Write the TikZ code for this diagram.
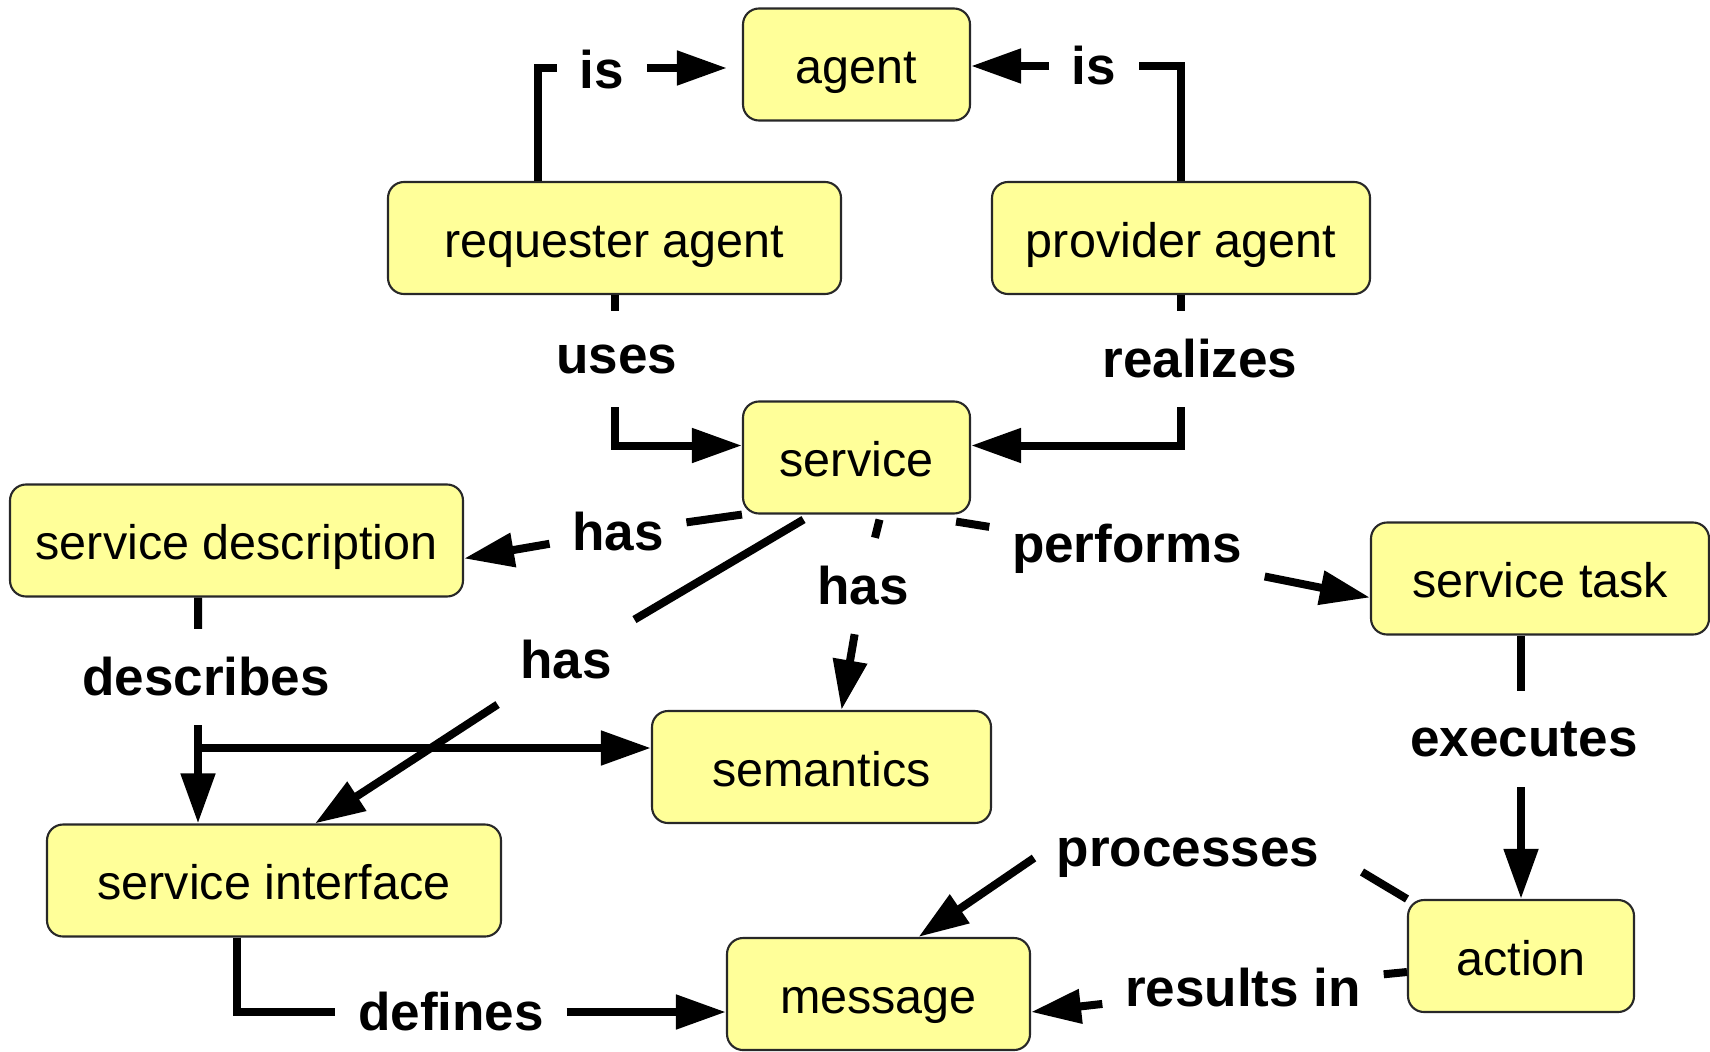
\documentclass[tikz,border=0pt]{standalone}
\usepackage{fontspec}
\setmainfont{Liberation Sans}
\usepackage{tikz}
\usetikzlibrary{arrows.meta, positioning, calc}
\definecolor{boxyellow}{RGB}{255,255,153}
\definecolor{boxborder}{RGB}{40,40,40}
\definecolor{mydark}{RGB}{0,0,0}
\tikzset{
  concept/.style={rectangle, draw=boxborder, fill=boxyellow,
    minimum height=1.12cm, inner sep=0pt, rounded corners=0.16cm,
    text height=0.45cm, text depth=0.07cm,
    font=\fontsize{13.8}{16}\selectfont, line width=0.6pt},
  rel/.style={inner xsep=0.22cm, inner ysep=0pt, minimum height=0.95cm,
    font=\fontsize{15.1}{17}\selectfont\bfseries},
  arrow/.style={-{Triangle[length=0.5cm, width=0.33cm]}, line width=0.08cm, color=mydark},
  line/.style={line width=0.08cm, color=mydark}
}
\begin{document}
\begin{tikzpicture}
  \useasboundingbox (0,0) rectangle (17.1,-10.51);

  % Concepts
  \node[concept, minimum width=2.27cm] (agent) at (8.565, -0.645) {agent};
  \node[concept, minimum width=4.53cm] (req) at (6.145, -2.38) {requester agent};
  \node[concept, minimum width=3.78cm] (prov) at (11.81, -2.38) {provider agent};
  \node[concept, minimum width=2.27cm] (service) at (8.565, -4.575) {service};
  \node[concept, minimum width=4.53cm] (sd) at (2.365, -5.405) {service description};
  \node[concept, minimum width=3.38cm] (stask) at (15.40, -5.785) {service task};
  \node[concept, minimum width=3.39cm] (semantics) at (8.215, -7.67) {semantics};
  \node[concept, minimum width=4.54cm] (sif) at (2.74, -8.805) {service interface};
  \node[concept, minimum width=3.03cm] (message) at (8.785, -9.94) {message};
  \node[concept, minimum width=2.26cm] (action) at (15.21, -9.56) {action};

  % Relation labels
  \node[rel] (is1) at (6.02, -0.70) {is};
  \node[rel] (is2) at (10.94, -0.66) {is};
  \node[rel] (uses) at (6.17, -3.59) {uses};
  \node[rel] (realizes) at (12.0, -3.59) {realizes};
  \node[rel] (has1) at (6.18, -5.32) {has};
  \node[rel] (has2) at (8.63, -5.86) {has};
  \node[rel] (has3) at (5.66, -6.60) {has};
  \node[rel] (performs) at (11.27, -5.49) {performs};
  \node[rel] (describes) at (2.06, -6.77) {describes};
  \node[rel] (executes) at (15.24, -7.39) {executes};
  \node[rel] (processes) at (11.88, -8.58) {processes};
  \node[rel] (resin) at (12.43, -9.88) {results in};
  \node[rel] (defines) at (4.51, -10.12) {defines};
  \coordinate (dsplit) at (1.98, -7.48);

  % Connectors
  \draw[line] ([xshift=-0.765cm]req.north) |- ([yshift=0.02cm]is1.west);
  \draw[arrow] ([yshift=0.02cm]is1.east) -- ([xshift=-0.15cm, yshift=0.02cm]is1 -| agent.west);
  \draw[line] (prov.north) |- (is2);
  \draw[arrow] (is2) -- (is2 -| agent.east);

  \draw[line] (req.south) -- (req.south |- uses.north);
  \draw[arrow] (req.south |- uses.south) |- ([yshift=0.12cm]service.west);
  \draw[line] (prov.south) -- (prov.south |- realizes.north);
  \draw[arrow] (prov.south |- realizes.south) |- ([yshift=0.12cm]service.east);

  \draw[line] (service.south west) -- (has1);
  \draw[arrow] (has1) -- ([yshift=-0.18cm]sd.east);
  \draw[line] ([xshift=0.23cm, yshift=-0.05cm]service.south) -- (has2);
  \draw[arrow] (has2) -- ([xshift=0.2cm]semantics.north);
  \draw[line] ([xshift=-0.53cm, yshift=-0.05cm]service.south) -- (has3);
  \draw[arrow] (has3) -- ([xshift=0.41cm]sif.north);
  \draw[line] ([xshift=-0.15cm, yshift=-0.07cm]service.south east) -- (performs);
  \draw[arrow] (performs) -- ([yshift=-0.19cm]stask.west);

  \draw[line] ([xshift=-0.385cm]sd.south) -- (dsplit |- describes.north);
  \draw[arrow] (dsplit |- describes.south) -- (dsplit |- sif.north);
  \draw[arrow] (dsplit) -- (dsplit -| semantics.west);

  \draw[line] (stask.south -| action.north) -- (action.north |- executes.north);
  \draw[arrow] (action.north |- executes.south) -- (action);
  \draw[line] (action.north west) -- ([xshift=0.2cm, yshift=-0.14cm]processes.east);
  \draw[arrow] (processes.west) -- ([xshift=0.4cm]message.north);
  \draw[line] ([yshift=-0.16cm]action.west) -- (resin);
  \draw[arrow] (resin) -- ([yshift=-0.18cm]message.east);

  \draw[line] ([xshift=-0.37cm]sif.south) |- (defines);
  \draw[arrow] (defines) -- (defines -| message.west);
\end{tikzpicture}
\end{document}
